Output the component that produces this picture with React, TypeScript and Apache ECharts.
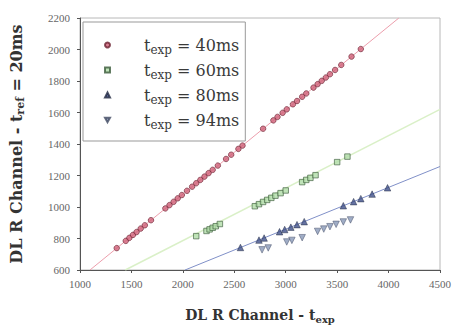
import React, { useEffect, useRef } from 'react';
import * as echarts from 'echarts';

const FONT = 'DejaVu Serif';
const TICK_FONT = 'Liberation Serif';

const seriesNames = ['40ms', '60ms', '80ms', '94ms'];

const x40 = [1357, 1445, 1480, 1515, 1550, 1590, 1630, 1690, 1830, 1870, 1910, 1950, 1990, 2040, 2090, 2130, 2170, 2210, 2250, 2290, 2340, 2420, 2470, 2540, 2580, 2780, 2880, 2920, 2970, 3010, 3070, 3110, 3160, 3200, 3270, 3310, 3350, 3390, 3430, 3480, 3540, 3640, 3730];
const y40 = [739, 785, 804, 823, 841, 863, 884, 916, 991, 1012, 1033, 1055, 1076, 1103, 1129, 1151, 1172, 1193, 1215, 1236, 1263, 1305, 1332, 1369, 1390, 1497, 1550, 1572, 1598, 1620, 1652, 1673, 1700, 1721, 1758, 1780, 1801, 1822, 1843, 1870, 1902, 1955, 2003];

const x60 = [2130, 2230, 2260, 2290, 2320, 2360, 2700, 2740, 2780, 2820, 2860, 2900, 2950, 3000, 3160, 3200, 3240, 3290, 3500, 3600];
const y60 = [815, 848, 858, 868, 878, 892, 1005, 1018, 1032, 1045, 1058, 1072, 1088, 1105, 1158, 1172, 1185, 1202, 1285, 1320];

const x80 = [2560, 2740, 2790, 2940, 2990, 3050, 3110, 3180, 3560, 3660, 3730, 3840, 3990];
const y80 = [743, 790, 803, 843, 857, 872, 888, 907, 1008, 1034, 1053, 1082, 1122];

const x94 = [2770, 2830, 3010, 3060, 3160, 3310, 3370, 3430, 3490, 3560, 3630];
const y94 = [728, 740, 778, 788, 805, 845, 860, 875, 890, 905, 918];

const fitLine40 = [[1097, 600], [4100, 2200]];
const fitLine60 = [[1440, 600], [4500, 1620]];
const fitLine80 = [[2021, 600], [4500, 1257]];

const zip = (xs: number[], ys: number[]) => xs.map((x, i) => [x, ys[i]]);

const INV_TRIANGLE = 'path://M0,0L10,0L5,9Z';

export default function App() {
  const ref = useRef<HTMLDivElement>(null);
  useEffect(() => {
    if (!ref.current) return;
    const chart = echarts.init(ref.current, null, { renderer: 'svg' });
    const axisCommon = {
      type: 'value' as const,
      splitLine: { show: false },
      axisLine: { show: true, lineStyle: { color: '#555', width: 1 } },
      axisTick: { show: true, length: 3, lineStyle: { color: '#555' } },
    };
    const lineSeries = (data: number[][], color: string, width: number) => ({
      type: 'line',
      data,
      showSymbol: false,
      symbol: 'none',
      lineStyle: { color, width },
      silent: true,
      z: 1,
    });
    chart.setOption({
      animation: false,
      backgroundColor: '#fff',
      grid: { left: 80, right: 14, top: 18, bottom: 57, show: true, borderColor: '#b8b8b8', borderWidth: 1 },
      legend: {
        data: [
          { name: seriesNames[0], icon: 'circle' },
          { name: seriesNames[1], icon: 'rect' },
          { name: seriesNames[2], icon: 'triangle' },
          { name: seriesNames[3], icon: INV_TRIANGLE },
        ],
        orient: 'vertical',
        left: 83,
        top: 22,
        padding: [15, 6, 10, 21],
        itemGap: 6,
        itemWidth: 5,
        itemHeight: 5,
        backgroundColor: '#fff',
        borderColor: '#999',
        borderWidth: 1,
        borderRadius: 0,
        formatter: (name: string) => `{f|t}{s|exp}{t| = ${name}}`,
        textStyle: {
          fontFamily: FONT,
          color: '#3a3a3a',
          rich: {
            f: { fontFamily: FONT, fontSize: 16, color: '#3a3a3a', lineHeight: 18, padding: [0, 0, 0, 29] },
            t: { fontFamily: FONT, fontSize: 16, color: '#3a3a3a', lineHeight: 18 },
            s: { fontFamily: FONT, fontSize: 12, color: '#3a3a3a', padding: [10, 0, 0, 0] },
          },
        },
      },
      xAxis: {
        ...axisCommon,
        min: 1000,
        max: 4500,
        interval: 500,
        axisLabel: { fontFamily: TICK_FONT, fontSize: 11, color: '#666', margin: 8, formatter: (v: number) => String(v) },
        name: '{a|DL R Channel - t}{b|exp}',
        nameLocation: 'middle',
        nameGap: 36,
        nameTextStyle: {
          rich: {
            a: { fontFamily: FONT, fontSize: 14, fontWeight: 'bold', color: '#333' },
            b: { fontFamily: FONT, fontSize: 10, fontWeight: 'bold', color: '#333', padding: [8, 0, 0, 0] },
          },
        },
      },
      yAxis: {
        ...axisCommon,
        min: 600,
        max: 2200,
        interval: 200,
        axisLabel: { fontFamily: TICK_FONT, fontSize: 11, color: '#666', margin: 10, formatter: (v: number) => String(v) },
        name: '{a|DL R Channel - t}{b|ref}{a| = 20ms}',
        nameLocation: 'middle',
        nameGap: 54,
        nameRotate: 90,
        nameTextStyle: {
          rich: {
            a: { fontFamily: FONT, fontSize: 16, fontWeight: 'bold', color: '#333' },
            b: { fontFamily: FONT, fontSize: 11, fontWeight: 'bold', color: '#333', padding: [8, 0, 0, 0] },
          },
        },
      },
      series: [
        lineSeries(fitLine40, '#ec9eac', 1),
        lineSeries(fitLine60, '#daf0c8', 1.5),
        lineSeries(fitLine80, '#8090c8', 1),
        {
          name: seriesNames[0], type: 'scatter', data: zip(x40, y40), symbol: 'circle', symbolSize: 5.5, z: 3,
          itemStyle: { color: '#d06078', borderColor: '#6a2030', borderWidth: 0.8 },
        },
        {
          name: seriesNames[1], type: 'scatter', data: zip(x60, y60), symbol: 'rect', symbolSize: 5.5, z: 3,
          itemStyle: { color: '#b0dca8', borderColor: '#3a5a3a', borderWidth: 0.8 },
        },
        {
          name: seriesNames[2], type: 'scatter', data: zip(x80, y80), symbol: 'triangle', symbolSize: 6.5, z: 3,
          itemStyle: { color: '#40508a', borderColor: '#202840', borderWidth: 0.6 },
        },
        {
          name: seriesNames[3], type: 'scatter', data: zip(x94, y94), symbol: 'triangle', symbolRotate: 180, symbolSize: 6.5, z: 3,
          itemStyle: { color: '#8898b8', borderColor: '#404860', borderWidth: 0.6 },
        },
      ],
    });
    return () => chart.dispose();
  }, []);
  return <div ref={ref} style={{ width: 454, height: 329, position: 'absolute', left: 0, top: 0 }} />;
}
